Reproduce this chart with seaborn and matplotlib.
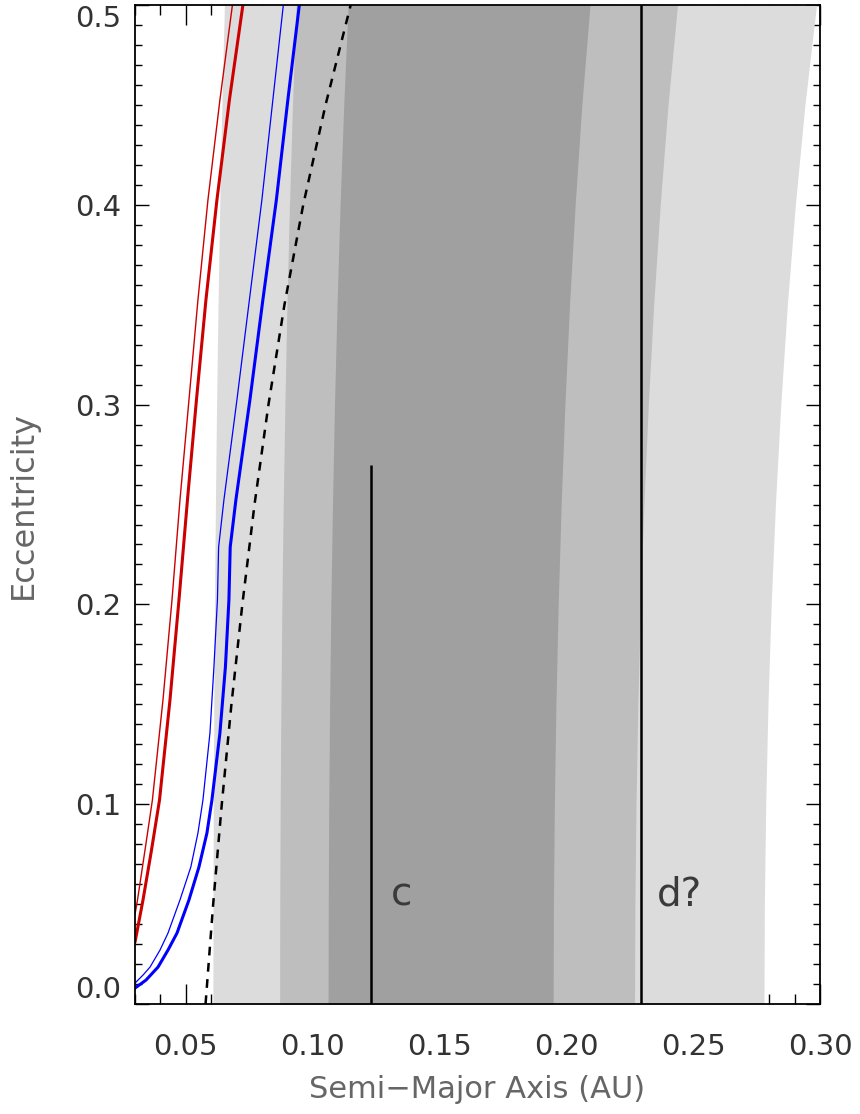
import matplotlib
matplotlib.use("Agg")
import matplotlib.pyplot as plt
import seaborn as sns
from matplotlib.ticker import MultipleLocator

# eccentricity grid for the shaded zone edges
ecc_grid = [0.0, 0.05, 0.10, 0.15, 0.20, 0.25, 0.30, 0.35, 0.40, 0.45, 0.50]

# zone edges (AU)
light_left = [0.0607, 0.06074, 0.06085, 0.06105, 0.06132, 0.06169, 0.06215, 0.06272, 0.06340, 0.06423, 0.06523]
light_right = [0.2779, 0.27807, 0.27860, 0.27949, 0.28075, 0.28242, 0.28453, 0.28713, 0.29028, 0.29405, 0.29862]
mid_left = [0.0870, 0.08705, 0.08722, 0.08750, 0.08789, 0.08842, 0.08908, 0.08989, 0.09088, 0.09206, 0.09349]
mid_right = [0.2269, 0.22704, 0.22747, 0.22820, 0.22923, 0.23059, 0.23231, 0.23444, 0.23701, 0.24009, 0.24382]
dark_left = [0.1061, 0.10617, 0.10637, 0.10671, 0.10719, 0.10783, 0.10863, 0.10963, 0.11083, 0.11227, 0.11401]
dark_right = [0.1948, 0.19492, 0.19529, 0.19591, 0.19680, 0.19797, 0.19945, 0.20127, 0.20348, 0.20612, 0.20933]

# curves (a, e)
red_thin_a = [0.0300, 0.03098, 0.03394, 0.03685, 0.04102, 0.04457, 0.04772, 0.05126, 0.05480, 0.05874, 0.06346, 0.06839]
red_thin_e = [0.0450, 0.0521, 0.0771, 0.1021, 0.1522, 0.2022, 0.2523, 0.3023, 0.3524, 0.4024, 0.4525, 0.5000]
red_thick_a = [0.0300, 0.03315, 0.03650, 0.03965, 0.04378, 0.04732, 0.05067, 0.05421, 0.05795, 0.06228, 0.06720, 0.07252]
red_thick_e = [0.0310, 0.0521, 0.0771, 0.1021, 0.1522, 0.2022, 0.2523, 0.3023, 0.3524, 0.4024, 0.4525, 0.5000]
blue_thin_a = [0.03000, 0.03315, 0.03591, 0.03984, 0.04299, 0.04772, 0.05200, 0.05480, 0.05677, 0.05953,
               0.06110, 0.06248, 0.06295, 0.06504, 0.07016, 0.07508, 0.08000, 0.08433, 0.08846]
blue_thin_e = [0.0105, 0.0145, 0.0185, 0.0270, 0.0355, 0.0521, 0.0686, 0.0856, 0.1021, 0.1356,
               0.1687, 0.2022, 0.2287, 0.2523, 0.3023, 0.3524, 0.4024, 0.4525, 0.5000]
blue_thick_a = [0.03000, 0.03433, 0.03906, 0.04299, 0.04654, 0.05126, 0.05520, 0.05835, 0.06031, 0.06346,
                0.06563, 0.06701, 0.06752, 0.06976, 0.07528, 0.08039, 0.08571, 0.09024, 0.09476]
blue_thick_e = [0.0080, 0.0120, 0.0185, 0.0270, 0.0355, 0.0521, 0.0686, 0.0856, 0.1021, 0.1356,
                0.1687, 0.2022, 0.2287, 0.2523, 0.3023, 0.3524, 0.4024, 0.4525, 0.5000]
dash_a = [0.0578, 0.0608, 0.0642, 0.0680, 0.0723, 0.0771, 0.0826, 0.0889, 0.0963, 0.1051, 0.1150]
dash_e = [0.0, 0.05, 0.10, 0.15, 0.20, 0.25, 0.30, 0.35, 0.40, 0.45, 0.50]

# planets
planet_names = ["c", "d?"]
planet_a = [0.1229, 0.2295]
planet_e_top = [0.27, 0.5]
label_a = [0.1350, 0.2446]
label_e = [0.055, 0.055]

x_ticks = [0.05, 0.10, 0.15, 0.20, 0.25, 0.30]
y_ticks = [0.0, 0.1, 0.2, 0.3, 0.4, 0.5]

sns.set_style("ticks")
plt.rcParams["font.family"] = ["DejaVu Sans"]

fig = plt.figure(figsize=(8.6, 11.14), dpi=100)
ax = fig.add_axes([0.157, 0.0987, 0.7965, 0.8968])

# shaded zones, light to dark
ax.fill_betweenx(ecc_grid, light_left, light_right, color="#dcdcdc", lw=0, zorder=1)
ax.fill_betweenx(ecc_grid, mid_left, mid_right, color="#bebebe", lw=0, zorder=1)
ax.fill_betweenx(ecc_grid, dark_left, dark_right, color="#a0a0a0", lw=0, zorder=1)

sns.lineplot(x=red_thin_a, y=red_thin_e, sort=False, estimator=None, color="#cc0000", lw=1.0, ax=ax, zorder=3)
sns.lineplot(x=red_thick_a, y=red_thick_e, sort=False, estimator=None, color="#cc0000", lw=2.2, ax=ax, zorder=3)
sns.lineplot(x=blue_thin_a, y=blue_thin_e, sort=False, estimator=None, color="#0000ff", lw=0.9, ax=ax, zorder=3)
sns.lineplot(x=blue_thick_a, y=blue_thick_e, sort=False, estimator=None, color="#0000ff", lw=2.2, ax=ax, zorder=3)
sns.lineplot(x=dash_a, y=dash_e, sort=False, estimator=None, color="black", lw=1.8, ax=ax, zorder=3)
ax.get_lines()[-1].set_dashes((3.5, 3))

for a, etop in zip(planet_a, planet_e_top):
    ax.vlines(a, 0, etop, color="black", lw=1.8, zorder=4)
for name, a, e in zip(planet_names, label_a, label_e):
    ax.text(a, e, name, fontsize=28, color="#3a3a3a", ha="center", va="center")

ax.set_xlim(0.03, 0.30)
ax.set_ylim(0.0, 0.5)
ax.set_xticks(x_ticks)
ax.set_yticks(y_ticks)
ax.set_xticklabels([f"{v:.2f}" for v in x_ticks])
ax.set_yticklabels([f"{v:.1f}" for v in y_ticks])
ax.xaxis.set_minor_locator(MultipleLocator(0.01))
ax.yaxis.set_minor_locator(MultipleLocator(0.01))
ax.tick_params(which="both", direction="in", top=True, right=True, color="black", width=1.0)
ax.tick_params(which="major", labelsize=21, labelcolor="#333333")
ax.tick_params(axis="x", which="major", length=14.4, pad=21)
ax.tick_params(axis="x", which="minor", length=7.2)
ax.tick_params(axis="y", which="major", length=10, pad=10)
ax.tick_params(axis="y", which="minor", length=5)
ylabs = ax.get_yticklabels()
ylabs[0].set_va("bottom")
ylabs[-1].set_va("top")
for s in ax.spines.values():
    s.set_linewidth(1.3)
    s.set_color("black")
    s.set_zorder(5)

ax.set_xlabel("Semi\u2212Major Axis (AU)", fontsize=22, color="#666666", labelpad=10)
ax.set_ylabel("Eccentricity", fontsize=23, color="#666666", labelpad=26)

fig.savefig("out.png", dpi=100)
